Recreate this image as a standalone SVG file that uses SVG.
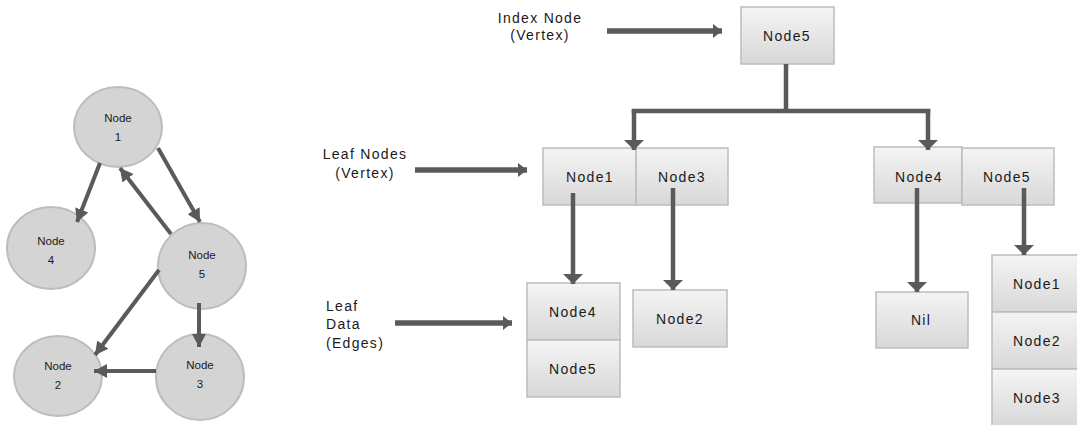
<svg xmlns="http://www.w3.org/2000/svg" width="1077" height="425" viewBox="0 0 1077 425">
  <style>
    .ell { fill: #d4d4d4; stroke: #bdbdbd; stroke-width: 2; }
    .box { fill: url(#boxGrad); stroke: #bcbcbc; stroke-width: 1.5; }
    .gtxt { font-family: "Liberation Sans", Arial, sans-serif; font-size: 11.5px; fill: #1a1a1a; text-anchor: middle; }
    .btxt { font-family: "Liberation Sans", Arial, sans-serif; font-size: 14px; letter-spacing: 1.3px; fill: #1a1a1a; text-anchor: middle; dominant-baseline: central; }
    .ltxt { font-family: "Liberation Sans", Arial, sans-serif; font-size: 14px; letter-spacing: 1.3px; fill: #1a1a1a; }
    .edge { stroke: #5a5a5a; stroke-width: 4; fill: none; }
    .link { stroke: #5a5a5a; stroke-width: 4.5; fill: none; }
    .lbl { stroke: #5a5a5a; stroke-width: 5.5; fill: none; }
  </style>
  <defs>
    <linearGradient id="boxGrad" x1="0" y1="0" x2="0" y2="1">
      <stop offset="0" stop-color="#f4f4f4"/>
      <stop offset="1" stop-color="#d8d8d8"/>
    </linearGradient>
    <marker id="headS" markerUnits="userSpaceOnUse" markerWidth="14" markerHeight="14" refX="13" refY="7" orient="auto">
      <path d="M0,0 L13,7 L0,14 z" fill="#5a5a5a"/>
    </marker>
    <marker id="headW" markerUnits="userSpaceOnUse" markerWidth="11" markerHeight="20" refX="10" refY="10" orient="auto">
      <path d="M0,0 L10,10 L0,20 z" fill="#5a5a5a"/>
    </marker>
    <marker id="headL" markerUnits="userSpaceOnUse" markerWidth="10" markerHeight="14" refX="9" refY="7" orient="auto">
      <path d="M0,0 L9,7 L0,14 z" fill="#5a5a5a"/>
    </marker>
  </defs>

  <!-- graph: vertices -->
  <g id="g-node1"><ellipse class="ell" cx="118" cy="127" rx="44" ry="40"/><text class="gtxt" x="118" y="122">Node</text><text class="gtxt" x="118" y="141">1</text></g>
  <g id="g-node4"><ellipse class="ell" cx="51" cy="248" rx="44" ry="41"/><text class="gtxt" x="51" y="245">Node</text><text class="gtxt" x="51" y="264">4</text></g>
  <g id="g-node5"><ellipse class="ell" cx="202" cy="266" rx="44" ry="43"/><text class="gtxt" x="202" y="259">Node</text><text class="gtxt" x="202" y="278">5</text></g>
  <g id="g-node2"><ellipse class="ell" cx="58" cy="376" rx="44" ry="40"/><text class="gtxt" x="58" y="370">Node</text><text class="gtxt" x="58" y="389">2</text></g>
  <g id="g-node3"><ellipse class="ell" cx="200" cy="377" rx="44" ry="43"/><text class="gtxt" x="200" y="369">Node</text><text class="gtxt" x="200" y="388">3</text></g>

  <!-- graph: edges -->
  <g id="graph-edges">
    <line class="edge" x1="100" y1="163" x2="77" y2="222" marker-end="url(#headS)"/>
    <line class="edge" x1="158" y1="148" x2="200" y2="222" marker-end="url(#headS)"/>
    <line class="edge" x1="171" y1="234" x2="120" y2="168" marker-end="url(#headS)"/>
    <line class="edge" x1="159" y1="270" x2="95" y2="355" marker-end="url(#headS)"/>
    <line class="edge" x1="199" y1="303" x2="199" y2="347" marker-end="url(#headS)"/>
    <line class="edge" x1="156" y1="371" x2="94" y2="371" marker-end="url(#headS)"/>
  </g>

  <!-- labels -->
  <g id="label-index">
    <text class="ltxt" x="540" y="23" text-anchor="middle">Index Node</text>
    <text class="ltxt" x="540" y="40" text-anchor="middle">(Vertex)</text>
  </g>
  <g id="label-leaf-nodes">
    <text class="ltxt" x="365" y="159" text-anchor="middle">Leaf Nodes</text>
    <text class="ltxt" x="365" y="178" text-anchor="middle">(Vertex)</text>
  </g>
  <g id="label-leaf-data">
    <text class="ltxt" x="326" y="311">Leaf</text>
    <text class="ltxt" x="326" y="329">Data</text>
    <text class="ltxt" x="326" y="348">(Edges)</text>
  </g>

  <!-- adjacency structure: boxes -->
  <g id="idx-node5"><rect class="box" x="741" y="7" width="93" height="57"/><text class="btxt" x="787" y="36">Node5</text></g>

  <g id="leaf-node1"><rect class="box" x="543" y="148" width="93" height="57"/><text class="btxt" x="590" y="177">Node1</text></g>
  <g id="leaf-node3"><rect class="box" x="636" y="148" width="92" height="57"/><text class="btxt" x="682" y="177">Node3</text></g>
  <g id="leaf-node4"><rect class="box" x="874" y="147" width="88" height="56"/><text class="btxt" x="919" y="177">Node4</text></g>
  <g id="leaf-node5"><rect class="box" x="962" y="148" width="92" height="57"/><text class="btxt" x="1007" y="177">Node5</text></g>

  <g id="data-node4"><rect class="box" x="527" y="283" width="93" height="57"/><text class="btxt" x="573" y="312">Node4</text></g>
  <g id="data-node5"><rect class="box" x="527" y="340" width="93" height="57"/><text class="btxt" x="573" y="369">Node5</text></g>
  <g id="data-node2"><rect class="box" x="633" y="290" width="94" height="57"/><text class="btxt" x="680" y="319">Node2</text></g>
  <g id="data-nil"><rect class="box" x="876" y="292" width="92" height="56"/><text class="btxt" x="921" y="320">Nil</text></g>
  <g id="data-c1"><rect class="box" x="992" y="255" width="92" height="57"/><text class="btxt" x="1037" y="284">Node1</text></g>
  <g id="data-c2"><rect class="box" x="992" y="312" width="92" height="57"/><text class="btxt" x="1037" y="341">Node2</text></g>
  <g id="data-c3"><rect class="box" x="992" y="369" width="92" height="57"/><text class="btxt" x="1037" y="398">Node3</text></g>

  <!-- connectors -->
  <g id="connectors">
    <line class="lbl" x1="607" y1="31" x2="722" y2="31" marker-end="url(#headL)"/>
    <line class="lbl" x1="415" y1="170" x2="527" y2="170" marker-end="url(#headL)"/>
    <line class="lbl" x1="395" y1="323" x2="512" y2="323" marker-end="url(#headL)"/>

    <polyline class="link" points="786,64 786,111"/>
    <polyline class="link" points="634,111 928,111" stroke-linecap="square"/>
    <line class="link" x1="634" y1="109" x2="634" y2="150" marker-end="url(#headW)"/>
    <line class="link" x1="928" y1="109" x2="928" y2="150" marker-end="url(#headW)"/>

    <line class="link" x1="573" y1="193" x2="573" y2="284" marker-end="url(#headW)"/>
    <line class="link" x1="673" y1="188" x2="673" y2="290" marker-end="url(#headW)"/>
    <line class="link" x1="917" y1="188" x2="917" y2="292" marker-end="url(#headW)"/>
    <line class="link" x1="1024" y1="188" x2="1024" y2="255" marker-end="url(#headW)"/>
  </g>
</svg>
